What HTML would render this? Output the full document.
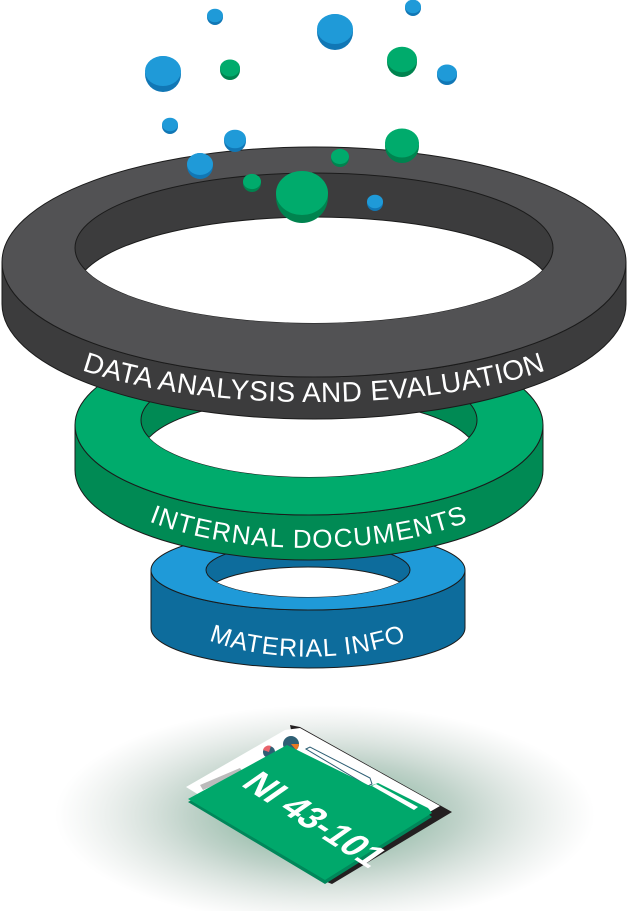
<!DOCTYPE html>
<html><head><meta charset="utf-8"><style>
html,body{margin:0;padding:0;background:#fff;width:628px;height:911px;overflow:hidden}
svg{display:block}
text{font-family:"Liberation Sans",Arial,sans-serif;fill:#fff}
</style></head><body>
<svg width="628" height="911" viewBox="0 0 628 911" xmlns="http://www.w3.org/2000/svg">
<defs>
<radialGradient id="sh" cx="50%" cy="50%" r="50%">
<stop offset="0" stop-color="#2f8a5c" stop-opacity="0.75"/>
<stop offset="0.5" stop-color="#5f8f78" stop-opacity="0.4"/>
<stop offset="1" stop-color="#9aa8a0" stop-opacity="0"/>
</radialGradient>
<clipPath id="ch1"><ellipse cx="314" cy="248" rx="239" ry="75"/></clipPath>
<clipPath id="ch2"><ellipse cx="309" cy="420" rx="168" ry="57"/></clipPath>
<clipPath id="ch3"><ellipse cx="308" cy="570" rx="102" ry="27"/></clipPath>
<path id="p1" d="M 40,352 A 312,96 0 0 0 588,352"/>
<path id="p2" d="M 80,470 A 234,98 0 0 0 538,470"/>
<path id="p3" d="M 160,608 A 157,73 0 0 0 456,608"/>
</defs>

<!-- shadow -->
<ellipse cx="325" cy="815" rx="270" ry="110" fill="url(#sh)"/>

<!-- document -->
<polygon points="290,725 300,727 452,812 332,884 322,880" fill="#231f20"/>
<polygon points="186,787 285,730 300,728 440,806 325,872" fill="#fff"/>
<polygon points="200,785 240,768 243,772 203,790" fill="#bbb"/>
<circle cx="291" cy="744" r="8" fill="#2e5f74"/>
<path d="M291,744 L299,744 A8,8 0 0 1 296,750 Z" fill="#e87722"/>
<circle cx="269" cy="752" r="6" fill="#2e5f74"/>
<path d="M269,752 L263,750 A6,6 0 0 1 271,746 Z" fill="#e8636b"/>
<polygon points="306,749 310,747 370,778 372,784 368,786" fill="none" stroke="#2e5f74" stroke-width="1"/>
<polygon points="188,802 287,748 372,790 426,812 432,817 325,884" fill="#00875a"/>
<polygon points="188,799 287,745 370,786 378,783 428,808 432,813 325,880" fill="#00a86b"/>
<polygon points="372,786 376,784 418,807 414,810" fill="#fff"/>
<text x="0" y="0" font-size="35" font-weight="bold" transform="translate(240,785) rotate(33) skewX(-22)">NI 43-101</text>

<!-- blue ring -->
<path d="M151,570 A157,40 0 0 0 465,570 L465,628 A157,40 0 0 1 151,628 Z" fill="#0d6c9c" stroke="#1b1b1b" stroke-width="1"/>
<ellipse cx="308" cy="570" rx="157" ry="40" fill="#1f9ad8" stroke="#1b1b1b" stroke-width="1"/>
<ellipse cx="308" cy="570" rx="102" ry="27" fill="#0d6c9c" stroke="#1b1b1b" stroke-width="1"/>
<g clip-path="url(#ch3)"><ellipse cx="308" cy="594" rx="102" ry="27" fill="#fff" stroke="#1b1b1b" stroke-width="1"/></g>
<text font-size="25" letter-spacing="1"><textPath href="#p3" startOffset="50%" text-anchor="middle">MATERIAL INFO</textPath></text>

<!-- green ring -->
<path d="M75,425 A234,90 0 0 0 543,425 L543,470 A234,90 0 0 1 75,470 Z" fill="#008a54" stroke="#1b1b1b" stroke-width="1"/>
<ellipse cx="309" cy="425" rx="234" ry="90" fill="#00ab6c" stroke="#1b1b1b" stroke-width="1"/>
<ellipse cx="309" cy="420" rx="168" ry="57" fill="#008a54" stroke="#1b1b1b" stroke-width="1"/>
<g clip-path="url(#ch2)"><ellipse cx="309" cy="455" rx="168" ry="57" fill="#fff" stroke="#1b1b1b" stroke-width="1"/></g>
<text font-size="26" letter-spacing="1.3"><textPath href="#p2" startOffset="50%" text-anchor="middle">INTERNAL DOCUMENTS</textPath></text>

<!-- black ring -->
<path d="M2,262 A312,115 0 0 0 626,262 L626,304 A312,115 0 0 1 2,304 Z" fill="#3c3c3d" stroke="#1b1b1b" stroke-width="1"/>
<ellipse cx="314" cy="262" rx="312" ry="115" fill="#525254" stroke="#1b1b1b" stroke-width="1"/>
<ellipse cx="314" cy="248" rx="239" ry="75" fill="#3c3c3d" stroke="#1b1b1b" stroke-width="1"/>
<g clip-path="url(#ch1)"><ellipse cx="314" cy="292" rx="239" ry="75" fill="#fff" stroke="#1b1b1b" stroke-width="1"/></g>
<text font-size="28" letter-spacing="0.5"><textPath href="#p1" startOffset="50%" text-anchor="middle">DATA ANALYSIS AND EVALUATION</textPath></text>

<!-- balls -->
<g>
<g fill="#1177b5">
<circle cx="215" cy="17" r="8"/><circle cx="335" cy="32" r="18"/><circle cx="413" cy="8" r="8"/>
<circle cx="163" cy="74" r="18"/><circle cx="447" cy="75" r="10"/><circle cx="170" cy="126" r="8"/>
<circle cx="235" cy="141" r="11"/><circle cx="200" cy="166" r="13"/><circle cx="375" cy="203" r="8"/>
</g>
<g fill="#1f9ad8">
<ellipse cx="215" cy="15.5" rx="8" ry="6.8"/><ellipse cx="335" cy="29" rx="18" ry="15"/><ellipse cx="413" cy="6.5" rx="8" ry="6.8"/>
<ellipse cx="163" cy="71" rx="18" ry="15"/><ellipse cx="447" cy="73" rx="10" ry="8.5"/><ellipse cx="170" cy="124.5" rx="8" ry="6.8"/>
<ellipse cx="235" cy="139" rx="11" ry="9.3"/><ellipse cx="200" cy="164" rx="13" ry="11"/><ellipse cx="375" cy="201.5" rx="8" ry="6.8"/>
</g>
<g fill="#00834f">
<circle cx="230" cy="70" r="10"/><circle cx="402" cy="62" r="15"/><circle cx="340" cy="158" r="9"/>
<circle cx="402" cy="146" r="17"/><circle cx="252" cy="183" r="9"/><circle cx="302" cy="197" r="26"/>
</g>
<g fill="#00ab6c">
<ellipse cx="230" cy="68" rx="10" ry="8.5"/><ellipse cx="402" cy="59.5" rx="15" ry="12.7"/><ellipse cx="340" cy="156.5" rx="9" ry="7.6"/>
<ellipse cx="402" cy="143" rx="17" ry="14.5"/><ellipse cx="252" cy="181.5" rx="9" ry="7.6"/><ellipse cx="302" cy="193" rx="26" ry="22"/>
</g>
</g>
</svg>
</body></html>
